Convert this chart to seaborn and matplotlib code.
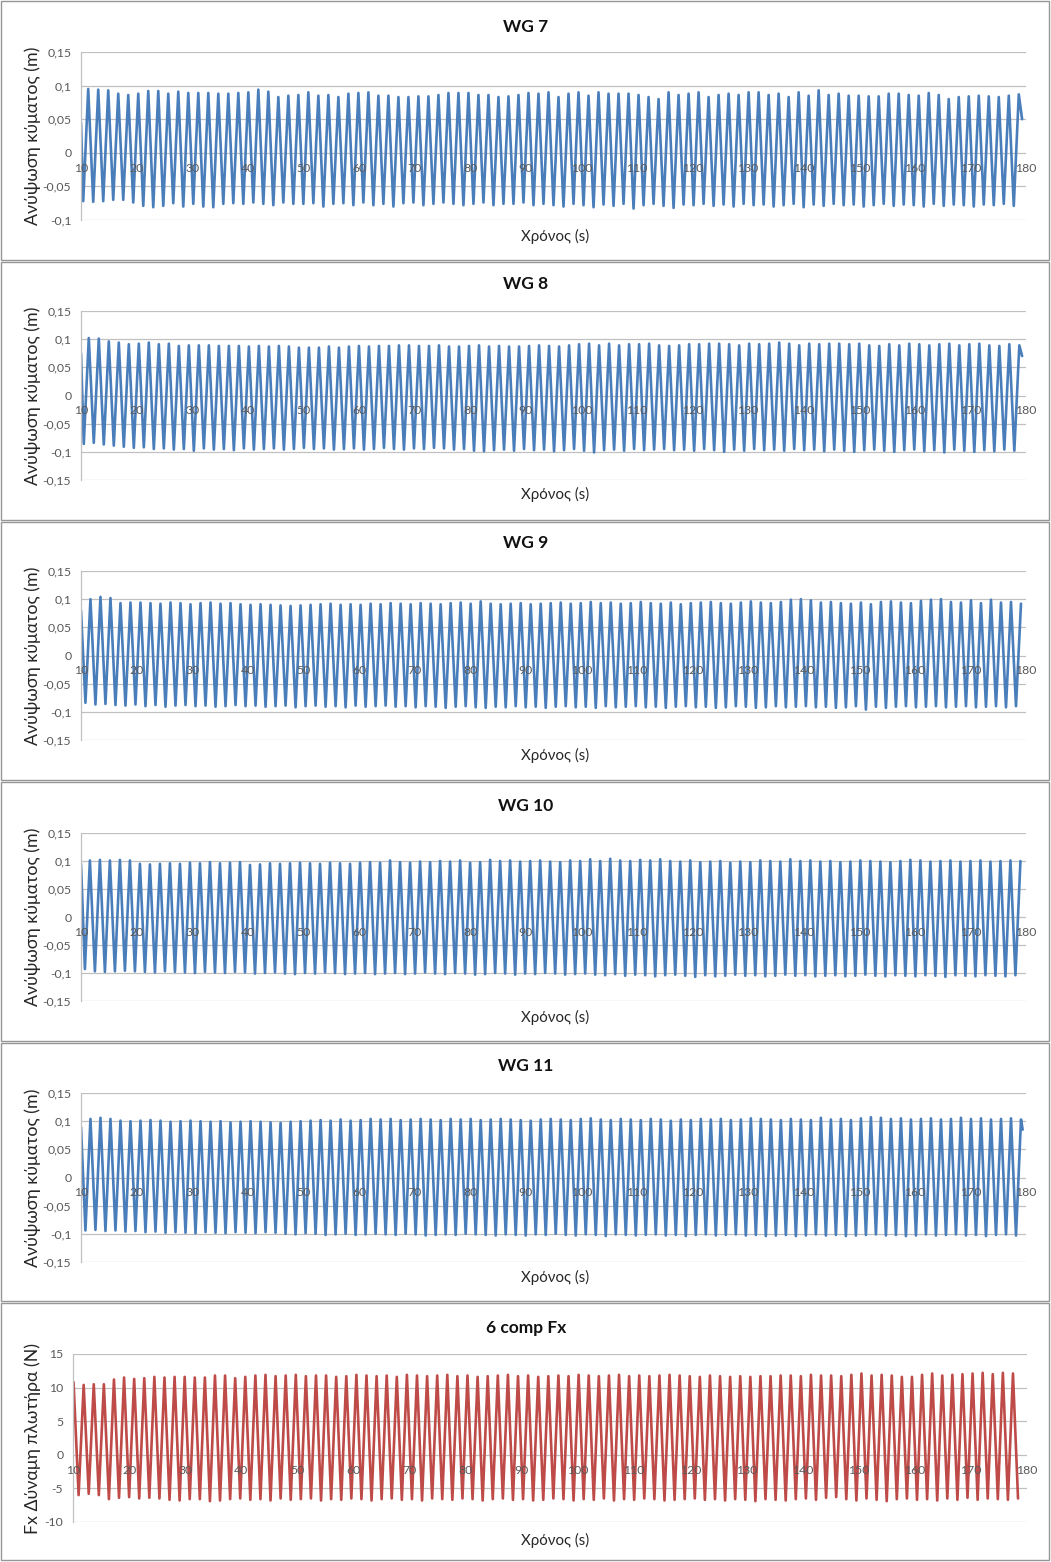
import numpy as np
import matplotlib
matplotlib.use("Agg")
import matplotlib.pyplot as plt
import seaborn as sns
from matplotlib.ticker import MultipleLocator, FuncFormatter
from matplotlib.patches import Rectangle

# ---------------- data ----------------
titles = ["WG 7", "WG 8", "WG 9", "WG 10", "WG 11", "6 comp Fx"]
ylabels = ["Ανύψωση κύματος (m)"] * 5 + ["Fx Δύναμη πλωτήρα (N)"]
xlabel_text = "Χρόνος (s)"

HALF_PERIOD = 0.9  # s between successive crest / trough

# time of first extremum, start/end points of each record
first_ext_t = [10.4, 10.5, 10.8, 10.7, 10.8, 10.1]
first_is_peak = [False, False, False, False, False, True]
start_pt = [(10.0, 0.045), (10.0, 0.075), (10.0, 0.08), (10.0, 0.095), (10.0, 0.09), None]
end_pt = [(179.3, 0.05), (179.3, 0.07), None, None, (179.4, 0.085), None]

wg7_peaks = [0.095,0.094,0.093,0.088,0.086,0.088,0.092,0.092,0.088,0.091,
             0.089,0.089,0.089,0.088,0.088,0.089,0.090,0.094,0.091,0.083,
             0.085,0.086,0.090,0.085,0.086,0.083,0.088,0.089,0.090,0.085,
             0.085,0.083,0.083,0.084,0.084,0.086,0.089,0.089,0.089,0.086,
             0.086,0.083,0.084,0.086,0.089,0.088,0.090,
             0.083,0.088,0.090,0.085,0.090,0.088,0.088,0.088,0.086,0.083,
             0.080,0.090,0.086,0.088,0.090,0.083,0.086,0.088,0.086,0.090,
             0.090,0.086,0.088,0.083,0.090,0.085,0.093,0.086,0.088,0.085,
             0.085,0.084,0.084,0.088,0.088,0.086,0.085,0.089,0.086,0.080,
             0.083,0.084,0.085,0.084,0.083,0.085,0.087]
wg7_troughs = [-0.072,-0.073,-0.072,-0.070,-0.070,-0.074,-0.079,-0.081,-0.079,-0.075,
               -0.080,-0.076,-0.080,-0.081,-0.076,-0.075,-0.076,-0.074,-0.076,-0.078,
               -0.074,-0.076,-0.076,-0.075,-0.080,-0.076,-0.075,-0.078,-0.074,-0.078,
               -0.076,-0.080,-0.075,-0.074,-0.078,-0.076,-0.074,-0.076,-0.078,-0.076,
               -0.074,-0.078,-0.076,-0.076,-0.074,-0.078,-0.076,
               -0.078,-0.080,-0.076,-0.078,-0.081,-0.077,-0.079,-0.076,-0.083,-0.078,
               -0.076,-0.079,-0.082,-0.077,-0.078,-0.076,-0.079,-0.077,-0.080,-0.076,
               -0.078,-0.077,-0.080,-0.078,-0.076,-0.081,-0.077,-0.079,-0.076,-0.078,
               -0.077,-0.080,-0.078,-0.076,-0.079,-0.077,-0.078,-0.080,-0.076,-0.079,
               -0.077,-0.078,-0.080,-0.077,-0.078,-0.076,-0.079]

wg8_peaks = [0.102,0.101,0.096,0.094,0.091,0.092,0.094,0.091,0.092,0.088,
             0.089,0.089,0.089,0.088,0.088,0.088,0.087,0.088,0.087,0.088,
             0.087,0.085,0.085,0.085,0.087,0.085,0.087,0.088,0.087,0.088,
             0.088,0.089,0.089,0.088,0.088,0.089,0.087,0.087,0.088,0.089,
             0.087,0.088,0.087,0.087,0.088,0.089,0.088,0.087,0.089,0.091,
             0.092,0.089,0.092,0.089,0.091,0.091,0.092,0.089,0.088,0.089,
             0.091,0.091,0.092,0.092,0.091,0.089,0.092,0.091,0.092,0.094,
             0.092,0.089,0.092,0.091,0.092,0.092,0.091,0.092,0.089,0.088,
             0.091,0.089,0.092,0.091,0.089,0.091,0.092,0.089,0.091,0.092,
             0.089,0.088,0.091,0.089]
wg8_troughs = [-0.086,-0.084,-0.087,-0.089,-0.091,-0.093,-0.092,-0.095,-0.094,-0.096,
               -0.095,-0.098,-0.094,-0.096,-0.095,-0.097,-0.094,-0.096,-0.095,-0.094,
               -0.096,-0.095,-0.093,-0.095,-0.094,-0.096,-0.095,-0.094,-0.096,-0.095,
               -0.093,-0.095,-0.096,-0.094,-0.095,-0.093,-0.094,-0.096,-0.095,-0.098,
               -0.099,-0.097,-0.096,-0.098,-0.095,-0.097,-0.096,-0.099,-0.097,-0.095,
               -0.098,-0.101,-0.097,-0.096,-0.098,-0.095,-0.097,-0.096,-0.095,-0.097,
               -0.096,-0.098,-0.095,-0.097,-0.100,-0.096,-0.098,-0.095,-0.097,-0.096,
               -0.098,-0.095,-0.097,-0.096,-0.099,-0.096,-0.098,-0.100,-0.097,-0.096,
               -0.098,-0.100,-0.097,-0.096,-0.099,-0.097,-0.101,-0.096,-0.098,-0.100,
               -0.097,-0.099,-0.096,-0.098]

wg9_peaks = [0.100,0.104,0.102,0.093,0.094,0.094,0.093,0.092,0.094,0.093,
             0.091,0.093,0.094,0.092,0.093,0.091,0.090,0.091,0.090,0.089,
             0.088,0.089,0.090,0.091,0.092,0.090,0.091,0.090,0.092,0.091,
             0.093,0.092,0.091,0.093,0.092,0.091,0.093,0.094,0.092,0.096,
             0.092,0.091,0.092,0.093,0.091,0.092,0.093,0.094,0.092,0.093,
             0.095,0.093,0.094,0.092,0.093,0.095,0.093,0.092,0.094,0.091,
             0.093,0.094,0.095,0.093,0.092,0.094,0.096,0.094,0.093,0.095,
             0.099,0.100,0.098,0.094,0.095,0.093,0.092,0.094,0.091,0.095,
             0.096,0.094,0.093,0.097,0.099,0.100,0.095,0.094,0.098,0.093,
             0.099,0.094,0.095,0.092]
wg9_troughs = [-0.084,-0.087,-0.086,-0.088,-0.089,-0.087,-0.090,-0.088,-0.091,-0.089,
               -0.088,-0.090,-0.089,-0.091,-0.090,-0.088,-0.090,-0.089,-0.091,-0.090,
               -0.089,-0.092,-0.090,-0.089,-0.091,-0.090,-0.092,-0.089,-0.091,-0.090,
               -0.089,-0.091,-0.090,-0.092,-0.090,-0.091,-0.093,-0.091,-0.090,-0.092,
               -0.093,-0.091,-0.092,-0.090,-0.092,-0.091,-0.093,-0.091,-0.090,-0.092,
               -0.091,-0.093,-0.090,-0.092,-0.091,-0.090,-0.092,-0.091,-0.093,-0.091,
               -0.090,-0.092,-0.091,-0.093,-0.092,-0.090,-0.091,-0.093,-0.092,-0.090,
               -0.092,-0.091,-0.090,-0.092,-0.091,-0.093,-0.092,-0.090,-0.096,-0.091,
               -0.093,-0.091,-0.090,-0.092,-0.091,-0.090,-0.092,-0.091,-0.090,-0.092,
               -0.091,-0.090,-0.092,-0.090]

wg10_peaks = [0.101,0.102,0.101,0.102,0.101,0.095,0.094,0.095,0.096,0.095,
              0.097,0.096,0.098,0.096,0.097,0.098,0.093,0.094,0.096,0.095,
              0.096,0.097,0.096,0.095,0.097,0.096,0.095,0.097,0.098,0.097,
              0.101,0.098,0.097,0.099,0.098,0.100,0.099,0.101,0.097,0.098,
              0.102,0.100,0.101,0.099,0.100,0.101,0.099,0.098,0.101,0.100,
              0.103,0.100,0.104,0.101,0.100,0.102,0.101,0.103,0.100,0.099,
              0.101,0.098,0.099,0.100,0.097,0.099,0.098,0.101,0.100,0.099,
              0.103,0.100,0.101,0.099,0.100,0.098,0.099,0.101,0.100,0.099,
              0.098,0.100,0.102,0.101,0.099,0.100,0.101,0.099,0.100,0.101,
              0.099,0.100,0.101,0.100]
wg10_troughs = [-0.093,-0.097,-0.098,-0.097,-0.096,-0.097,-0.098,-0.099,-0.097,-0.098,
                -0.099,-0.100,-0.098,-0.099,-0.100,-0.098,-0.099,-0.101,-0.100,-0.099,
                -0.101,-0.102,-0.100,-0.101,-0.099,-0.100,-0.102,-0.101,-0.100,-0.102,
                -0.101,-0.100,-0.102,-0.101,-0.099,-0.101,-0.102,-0.100,-0.101,-0.103,
                -0.102,-0.100,-0.101,-0.103,-0.101,-0.102,-0.100,-0.101,-0.103,-0.102,
                -0.101,-0.103,-0.104,-0.102,-0.105,-0.103,-0.104,-0.106,-0.104,-0.103,
                -0.105,-0.107,-0.104,-0.106,-0.105,-0.103,-0.105,-0.104,-0.106,-0.105,
                -0.103,-0.105,-0.104,-0.106,-0.105,-0.104,-0.106,-0.105,-0.103,-0.105,
                -0.106,-0.104,-0.105,-0.106,-0.104,-0.105,-0.107,-0.104,-0.105,-0.106,
                -0.104,-0.105,-0.106,-0.104]

wg11_peaks = [0.104,0.106,0.104,0.101,0.100,0.101,0.102,0.101,0.099,0.100,
              0.101,0.100,0.099,0.100,0.098,0.099,0.100,0.099,0.098,0.097,
              0.099,0.100,0.101,0.102,0.101,0.103,0.101,0.102,0.104,0.103,
              0.104,0.102,0.103,0.104,0.103,0.102,0.104,0.103,0.104,0.102,
              0.103,0.104,0.103,0.102,0.101,0.103,0.104,0.103,0.102,0.104,
              0.105,0.103,0.102,0.104,0.103,0.102,0.104,0.103,0.101,0.103,
              0.102,0.104,0.103,0.104,0.102,0.103,0.105,0.104,0.103,0.102,
              0.104,0.103,0.102,0.106,0.103,0.104,0.102,0.105,0.107,0.106,
              0.104,0.105,0.103,0.104,0.105,0.103,0.104,0.106,0.104,0.105,
              0.103,0.104,0.105,0.103]
wg11_troughs = [-0.094,-0.093,-0.095,-0.094,-0.096,-0.095,-0.097,-0.096,-0.098,-0.097,
                -0.098,-0.099,-0.097,-0.098,-0.099,-0.097,-0.098,-0.099,-0.097,-0.098,
                -0.100,-0.101,-0.099,-0.100,-0.102,-0.101,-0.100,-0.102,-0.101,-0.100,
                -0.101,-0.102,-0.100,-0.101,-0.103,-0.102,-0.101,-0.102,-0.100,-0.101,
                -0.102,-0.103,-0.101,-0.102,-0.103,-0.101,-0.102,-0.100,-0.102,-0.103,
                -0.101,-0.102,-0.104,-0.101,-0.102,-0.103,-0.102,-0.101,-0.103,-0.102,
                -0.104,-0.102,-0.101,-0.103,-0.102,-0.101,-0.103,-0.102,-0.104,-0.103,
                -0.102,-0.104,-0.103,-0.101,-0.103,-0.102,-0.104,-0.103,-0.102,-0.101,
                -0.103,-0.102,-0.104,-0.103,-0.101,-0.103,-0.102,-0.101,-0.103,-0.102,
                -0.104,-0.102,-0.101,-0.103]

fx_peaks = [10.8,10.4,10.5,10.5,11.2,11.5,11.3,11.4,11.6,11.5,
            11.6,11.6,11.5,11.5,11.8,11.8,11.4,11.6,11.8,11.9,
            11.7,11.8,11.9,11.7,11.8,11.8,11.6,11.7,11.9,11.8,
            11.7,11.8,11.6,11.9,11.8,11.7,11.8,11.9,11.7,11.8,
            11.6,11.7,11.8,11.9,11.7,11.8,11.6,11.7,11.8,11.7,
            11.9,11.8,11.7,11.8,11.9,11.7,11.8,11.7,11.8,11.9,
            11.8,11.7,11.6,11.8,11.7,11.6,11.7,11.6,11.7,11.7,
            11.8,11.8,11.7,11.9,11.8,11.8,11.7,11.9,12.1,11.8,
            11.9,11.8,11.6,11.6,11.9,12.1,11.8,11.9,12.0,12.1,
            12.2,12.0,12.2,12.1]
fx_troughs = [-6.0,-5.8,-6.0,-6.6,-6.4,-6.3,-6.5,-6.4,-6.5,-6.7,
              -6.8,-6.6,-6.6,-6.9,-6.8,-6.6,-6.5,-6.7,-6.6,-6.8,
              -6.5,-6.7,-6.6,-6.5,-6.8,-6.6,-6.7,-6.5,-6.6,-6.8,
              -6.6,-6.5,-6.7,-6.6,-6.8,-6.5,-6.6,-6.7,-6.5,-6.6,
              -6.8,-6.6,-6.5,-6.7,-6.6,-6.8,-6.7,-6.5,-6.6,-6.8,
              -6.6,-6.7,-6.5,-6.8,-6.6,-6.7,-6.5,-6.6,-6.8,-6.7,
              -6.6,-6.5,-6.7,-6.6,-6.8,-6.6,-6.7,-6.9,-6.6,-6.7,
              -6.8,-6.6,-6.5,-6.7,-6.4,-6.3,-6.6,-6.8,-6.5,-6.7,
              -6.9,-6.6,-6.5,-6.7,-6.6,-6.8,-6.5,-6.7,-6.4,-6.7,
              -6.5,-6.6,-6.7,-6.5]

all_peaks = [wg7_peaks, wg8_peaks, wg9_peaks, wg10_peaks, wg11_peaks, fx_peaks]
all_troughs = [wg7_troughs, wg8_troughs, wg9_troughs, wg10_troughs, wg11_troughs, fx_troughs]

# ---------------- styling / layout ----------------
sns.set_theme(style="white")
plt.rcParams["font.family"] = ["Lato", "Open Sans", "DejaVu Sans"]

W, H = 1051, 1562
fig = plt.figure(figsize=(W / 100, H / 100), dpi=100)

BLUE = "#4a7ebb"
RED = "#be4b48"
GRID = "#c0c0c0"
TICK_C = "#595959"

# (box_top, box_bottom, plot_left, plot_right, plot_top, plot_bottom, title_y, xlabel_y)
layout = [
    (1, 260, 81, 1026, 52, 220, 27, 236),
    (262, 520, 81, 1026, 311, 480, 284, 494),
    (522, 780, 81, 1026, 571, 740, 543, 755),
    (782, 1041, 81, 1026, 833, 1001, 806, 1017),
    (1043, 1301, 81, 1026, 1093, 1262, 1066, 1277),
    (1303, 1560, 73, 1027, 1354, 1522, 1328, 1540),
]
ylims = [(-0.1, 0.15), (-0.15, 0.15), (-0.15, 0.15), (-0.15, 0.15), (-0.15, 0.15), (-10, 15)]
ysteps = [0.05, 0.05, 0.05, 0.05, 0.05, 5]
colors = [BLUE] * 5 + [RED]


def comma_fmt(v, pos):
    s = f"{round(v, 6):g}"
    return s.replace(".", ",")


for i in range(6):
    bt, bb, pl, pr, pt, pb, ty, xy = layout[i]
    # chart border
    fig.patches.append(Rectangle((1 / W, 1 - bb / H), 1048 / W, (bb - bt) / H,
                                 transform=fig.transFigure, fill=False,
                                 ec="#969696", lw=1.0, zorder=0))
    ax = fig.add_axes([pl / W, 1 - pb / H, (pr - pl) / W, (pb - pt) / H])

    peaks = np.asarray(all_peaks[i])
    troughs = np.asarray(all_troughs[i])
    ext = np.empty(peaks.size + troughs.size)
    if first_is_peak[i]:
        ext[0::2], ext[1::2] = peaks, troughs
    else:
        ext[0::2], ext[1::2] = troughs, peaks
    t = first_ext_t[i] + HALF_PERIOD * np.arange(ext.size)
    if start_pt[i] is not None:
        t = np.concatenate([[start_pt[i][0]], t])
        ext = np.concatenate([[start_pt[i][1]], ext])
    if end_pt[i] is not None:
        t = np.concatenate([t, [end_pt[i][0]]])
        ext = np.concatenate([ext, [end_pt[i][1]]])

    sns.lineplot(x=t, y=ext, ax=ax, color=colors[i], linewidth=1.9,
                 sort=False, estimator=None, solid_joinstyle="round")

    ax.set_xlim(10, 180)
    ax.set_ylim(*ylims[i])
    ax.xaxis.set_major_locator(MultipleLocator(10))
    ax.yaxis.set_major_locator(MultipleLocator(ysteps[i]))
    ax.yaxis.set_major_formatter(FuncFormatter(comma_fmt))
    ax.grid(axis="y", color=GRID, lw=0.9)
    ax.grid(axis="x", visible=False)
    ax.set_axisbelow(True)
    # x tick labels drawn over the curve (as in the reference); y gridlines stay below
    ax.xaxis.set_zorder(3)
    for s in ("top", "right"):
        ax.spines[s].set_visible(False)
    ax.spines["bottom"].set_position(("data", 0))
    ax.spines["bottom"].set_visible(False)
    ax.spines["left"].set_color(GRID)
    ax.spines["left"].set_linewidth(0.9)
    ax.tick_params(axis="both", length=0, labelsize=8.8, labelcolor=TICK_C)
    ax.tick_params(axis="x", pad=7)
    ax.tick_params(axis="y", pad=7)
    ax.set_xlabel("")
    ax.set_ylabel("")
    ax.set_facecolor("none")

    fig.text(526 / W, 1 - ty / H, titles[i], ha="center", va="center",
             fontsize=12.5, fontweight="bold", color="#111111")
    fig.text(555 / W, 1 - xy / H, xlabel_text, ha="center", va="center",
             fontsize=10.8, color="#262626")
    fig.text(33 / W, 1 - ((pt + pb) / 2) / H, ylabels[i], ha="center", va="center",
             rotation=90, fontsize=12.8, color="#262626")

fig.savefig("out.png", dpi=100)
